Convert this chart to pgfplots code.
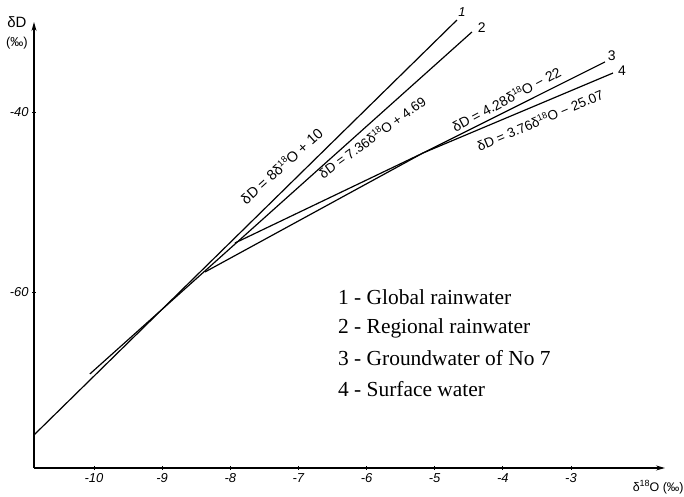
\documentclass[border=0pt]{standalone}
\usepackage{fontspec}
\setmainfont{Liberation Serif}
\newfontfamily\hand{Liberation Sans}
\usepackage{pgfplots}
\pgfplotsset{compat=1.18}
\usetikzlibrary{arrows.meta}

% raised small digits, the font has no real superscripts
\newcommand\up[1]{\raisebox{0.7ex}{\fontsize{9}{9}\selectfont #1}}

\begin{document}
\begin{tikzpicture}
  \begin{axis}[
    scale only axis,
    width=631bp, height=446bp,
    xmin=-10.88, xmax=-1.62,
    ymin=-79.56, ymax=-30,
    axis lines=left,
    axis line style={line width=1.2pt, -{Stealth[length=9pt,width=5pt]}},
    xtick={-10,-9,-8,-7,-6,-5,-4,-3},
    xticklabels={-10,-9,-8,-7,-6,-5,-4,-3},
    ytick={-60,-40},
    yticklabels={-60,-40},
    tick style={line width=0.8pt, black},
    major tick length=4pt,
    tick align=center,
    ticklabel style={font=\hand\itshape\fontsize{13}{13}\selectfont},
    clip=false,
    ]
    % 1 - global rainwater
    \addplot[black, line width=1.2pt] coordinates {(-10.88,-75.89) (-4.673,-29.78)};
    % 2 - regional rainwater
    \addplot[black, line width=1.2pt] coordinates {(-10.06,-69.11) (-4.453,-31.11)};
    % 3 - groundwater
    \addplot[black, line width=1.2pt] coordinates {(-8.371,-57.78) (-5.172,-44.56) (-2.501,-34.44)};
    % 4 - surface water
    \addplot[black, line width=1.2pt] coordinates {(-7.931,-54.56) (-5.172,-44.56) (-2.383,-35.67)};

    \node[rotate=42, font=\hand\fontsize{14.5}{14.5}\selectfont] at (axis cs:-7.25,-46.0)
      {δD = 8δ\up{18}O + 10};
    \node[rotate=36, font=\hand\fontsize{13.5}{13.5}\selectfont] at (axis cs:-5.92,-42.78)
      {δD = 7.36δ\up{18}O + 4.69};
    \node[rotate=28, font=\hand\fontsize{14}{14}\selectfont] at (axis cs:-3.95,-38.56)
      {δD = 4.28δ\up{18}O − 22};
    \node[rotate=23, font=\hand\fontsize{13.5}{13.5}\selectfont] at (axis cs:-3.455,-40.89)
      {δD = 3.76δ\up{18}O − 25.07};

    \node[font=\hand\itshape\fontsize{13}{13}\selectfont] at (axis cs:-4.60,-28.9) {1};
    \node[font=\hand\fontsize{14}{14}\selectfont] at (axis cs:-4.31,-30.67) {2};
    \node[font=\hand\fontsize{14}{14}\selectfont] at (axis cs:-2.40,-33.8) {3};
    \node[font=\hand\fontsize{14}{14}\selectfont] at (axis cs:-2.25,-35.4) {4};

    \node[font=\hand\fontsize{15}{15}\selectfont] at (axis cs:-11.13,-30) {δD};
    \node[font=\hand\fontsize{13}{13}\selectfont] at (axis cs:-11.13,-32.4) {(‰)};
    \node[font=\hand\fontsize{12.5}{12.5}\selectfont] at (axis cs:-1.72,-81.67)
      {δ\up{18}O (‰)};

    \begin{scope}[every node/.style={anchor=west, inner sep=0pt, font=\fontsize{21.5}{21.5}\selectfont}]
      \node at (axis cs:-6.419,-60.56) {1 - Global rainwater};
      \node at (axis cs:-6.419,-64.0) {2 - Regional rainwater};
      \node at (axis cs:-6.419,-67.33) {3 - Groundwater of No 7};
      \node at (axis cs:-6.419,-70.78) {4 - Surface water};
    \end{scope}

    \coordinate (bl) at (rel axis cs:-0.0539,-0.065);
    \coordinate (tr) at (rel axis cs:1.0301,1.0493);
  \end{axis}
  \pgfresetboundingbox
  \useasboundingbox (bl) rectangle (tr);
\end{tikzpicture}
\end{document}
